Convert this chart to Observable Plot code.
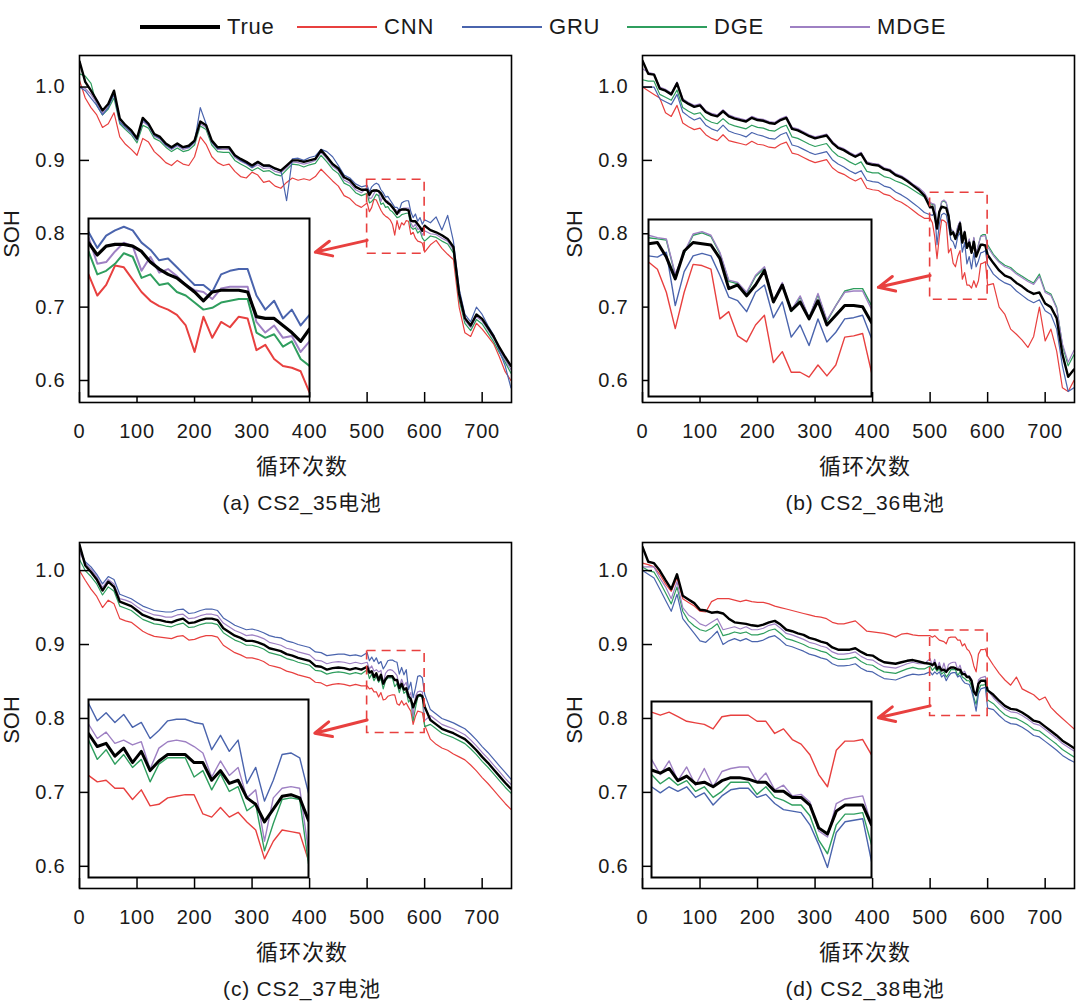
<!DOCTYPE html>
<html><head><meta charset="utf-8">
<script src="https://cdn.jsdelivr.net/npm/d3@7"></script>
<script src="https://cdn.jsdelivr.net/npm/@observablehq/plot@0.6"></script>
<style>
html,body{margin:0;padding:0;background:#fff;}
#root{position:relative;width:1080px;height:1008px;overflow:hidden;font-family:"Liberation Sans","Noto Sans CJK SC",sans-serif;color:#1a1a1a;}
.lbl{position:absolute;transform:translate(-50%,-50%);white-space:nowrap;}
</style></head><body><div id="root"></div>
<script>
// ---------- categories / ticks ----------
const seriesNames = ["True","CNN","GRU","DGE","MDGE"];
const seriesColors = ["#000000","#e8403f","#4a64ad","#2f9e5e","#9e80c3"];
const drawOrder = ["CNN","DGE","MDGE","GRU","True"];
const cyclesEarly = d3.range(0, 500, 10);   // 0..490
const cyclesZoom  = d3.range(500, 601, 4);  // 500..600 (detail shown in insets)
const cyclesLate  = d3.range(610, 751, 10); // 610..750
const xTicks = [0,100,200,300,400,500,600,700];
const yTicks = [0.6,0.7,0.8,0.9,1.0];
const captions = ["(a) CS2_35电池","(b) CS2_36电池","(c) CS2_37电池","(d) CS2_38电池"];
const xAxisTitle = "循环次数";
const yAxisTitle = "SOH";
// zoom window (cycles 500-600) SOH ranges per panel, and arrow ends (cycle, SOH)
const zoomCycles = [500, 600];
const zoomSOH = [[0.7727,0.8737],[0.710,0.856],[0.7804,0.8913],[0.8034,0.919]];
const arrowFrom = [[500,0.791],[500,0.743],[500,0.798],[500,0.817]];
const arrowTo   = [[410,0.775],[410,0.727],[409,0.780],[410,0.801]];

// ---------- Panel (a) CS2_35 ----------
const A_True_early = [1.035,1.007,0.995,0.982,0.968,0.977,0.995,0.957,0.948,0.941,0.930,0.958,0.950,0.936,0.932,0.923,0.918,0.923,0.918,0.920,0.927,0.953,0.948,0.927,0.918,0.918,0.918,0.907,0.902,0.898,0.893,0.898,0.893,0.893,0.889,0.886,0.893,0.900,0.900,0.898,0.900,0.902,0.914,0.905,0.895,0.889,0.877,0.873,0.864,0.860];
const A_True_zoom = [0.860,0.853,0.858,0.859,0.859,0.858,0.855,0.849,0.845,0.842,0.840,0.836,0.832,0.827,0.832,0.833,0.833,0.833,0.832,0.818,0.817,0.817,0.813,0.809,0.804,0.811];
const A_True_late = [0.805,0.802,0.798,0.793,0.782,0.718,0.685,0.675,0.690,0.684,0.672,0.660,0.645,0.632,0.620];
const A_GRU_early = [1.000,0.995,0.985,0.975,0.962,0.972,0.990,0.952,0.945,0.938,0.928,0.955,0.948,0.934,0.930,0.921,0.916,0.921,0.917,0.918,0.925,0.972,0.950,0.925,0.916,0.918,0.917,0.906,0.900,0.896,0.890,0.897,0.892,0.892,0.888,0.887,0.845,0.902,0.903,0.900,0.904,0.906,0.915,0.912,0.905,0.893,0.880,0.876,0.868,0.864];
const A_GRU_zoom = [0.866,0.857,0.864,0.867,0.869,0.867,0.860,0.856,0.850,0.851,0.846,0.841,0.836,0.836,0.832,0.842,0.844,0.845,0.845,0.830,0.822,0.827,0.817,0.822,0.813,0.819];
const A_GRU_late = [0.815,0.823,0.805,0.825,0.790,0.725,0.690,0.680,0.700,0.690,0.675,0.662,0.640,0.620,0.590];
const A_DGE_early = [1.018,1.015,1.005,0.975,0.962,0.970,0.985,0.950,0.942,0.935,0.924,0.948,0.944,0.930,0.926,0.918,0.912,0.917,0.912,0.914,0.921,0.947,0.942,0.921,0.912,0.911,0.911,0.900,0.895,0.891,0.886,0.890,0.885,0.886,0.881,0.879,0.887,0.895,0.894,0.891,0.894,0.896,0.907,0.898,0.888,0.882,0.869,0.865,0.856,0.852];
const A_DGE_zoom = [0.855,0.842,0.844,0.848,0.854,0.852,0.840,0.842,0.836,0.837,0.832,0.830,0.826,0.822,0.823,0.826,0.827,0.828,0.828,0.809,0.806,0.808,0.801,0.804,0.794,0.790];
const A_DGE_late = [0.797,0.795,0.790,0.786,0.774,0.710,0.678,0.668,0.683,0.677,0.665,0.653,0.638,0.625,0.610];
const A_MDGE_early = [1.000,0.998,0.990,0.978,0.964,0.973,0.990,0.953,0.944,0.937,0.927,0.953,0.947,0.933,0.929,0.920,0.915,0.920,0.915,0.917,0.924,0.950,0.945,0.924,0.915,0.915,0.915,0.904,0.899,0.895,0.890,0.894,0.889,0.890,0.885,0.883,0.890,0.898,0.897,0.895,0.897,0.900,0.911,0.902,0.892,0.886,0.873,0.869,0.860,0.856];
const A_MDGE_zoom = [0.863,0.848,0.849,0.855,0.860,0.858,0.844,0.852,0.843,0.845,0.841,0.836,0.833,0.832,0.828,0.834,0.835,0.835,0.835,0.815,0.809,0.813,0.806,0.807,0.798,0.804];
const A_MDGE_late = [0.800,0.799,0.794,0.790,0.778,0.714,0.682,0.672,0.687,0.681,0.669,0.657,0.642,0.628,0.615];
const A_CNN_early = [1.009,0.985,0.972,0.962,0.945,0.950,0.965,0.932,0.922,0.915,0.907,0.930,0.925,0.912,0.905,0.897,0.893,0.900,0.895,0.893,0.905,0.932,0.922,0.905,0.897,0.893,0.895,0.885,0.878,0.876,0.884,0.880,0.870,0.872,0.865,0.862,0.870,0.876,0.873,0.875,0.873,0.878,0.888,0.880,0.872,0.865,0.852,0.848,0.840,0.836];
const A_CNN_zoom = [0.842,0.830,0.836,0.847,0.846,0.839,0.832,0.827,0.824,0.822,0.819,0.813,0.798,0.818,0.806,0.815,0.812,0.818,0.817,0.799,0.802,0.794,0.790,0.789,0.787,0.775];
const A_CNN_late = [0.785,0.791,0.780,0.772,0.765,0.700,0.665,0.660,0.678,0.670,0.660,0.650,0.632,0.612,0.600];

// ---------- Panel (b) CS2_36 ----------
const B_True_early = [1.036,1.018,1.017,0.998,0.995,0.990,1.005,0.982,0.977,0.973,0.975,0.966,0.962,0.960,0.967,0.960,0.957,0.955,0.953,0.958,0.955,0.954,0.951,0.950,0.955,0.958,0.943,0.941,0.937,0.933,0.930,0.932,0.934,0.924,0.917,0.914,0.909,0.905,0.909,0.896,0.894,0.893,0.888,0.886,0.880,0.877,0.872,0.866,0.860,0.852];
const B_True_zoom = [0.836,0.837,0.825,0.807,0.830,0.837,0.836,0.835,0.824,0.799,0.802,0.793,0.802,0.814,0.788,0.802,0.781,0.788,0.774,0.789,0.769,0.777,0.785,0.785,0.784,0.771];
const B_True_late = [0.760,0.750,0.743,0.740,0.733,0.728,0.722,0.718,0.720,0.705,0.700,0.685,0.636,0.605,0.615];
const B_GRU_early = [1.000,1.000,1.000,0.984,0.980,0.976,0.990,0.966,0.960,0.955,0.958,0.948,0.943,0.940,0.948,0.940,0.937,0.935,0.932,0.938,0.935,0.933,0.930,0.929,0.935,0.938,0.921,0.919,0.915,0.911,0.908,0.910,0.912,0.901,0.895,0.891,0.886,0.882,0.886,0.873,0.871,0.870,0.865,0.863,0.857,0.853,0.848,0.842,0.836,0.829];
const B_GRU_zoom = [0.826,0.825,0.829,0.785,0.813,0.826,0.828,0.826,0.810,0.792,0.789,0.780,0.796,0.802,0.775,0.788,0.759,0.769,0.752,0.774,0.755,0.763,0.774,0.775,0.777,0.758];
const B_GRU_late = [0.745,0.738,0.733,0.730,0.722,0.716,0.710,0.706,0.710,0.695,0.690,0.670,0.620,0.585,0.590];
const B_DGE_early = [1.010,1.008,1.008,0.990,0.986,0.982,0.996,0.972,0.967,0.963,0.965,0.956,0.952,0.950,0.957,0.950,0.947,0.945,0.943,0.948,0.945,0.944,0.941,0.940,0.945,0.948,0.932,0.930,0.926,0.922,0.919,0.921,0.923,0.913,0.906,0.903,0.898,0.894,0.898,0.885,0.883,0.883,0.878,0.876,0.872,0.869,0.865,0.860,0.855,0.850];
const B_DGE_zoom = [0.841,0.840,0.839,0.810,0.828,0.843,0.845,0.842,0.828,0.805,0.803,0.795,0.809,0.816,0.788,0.803,0.780,0.792,0.775,0.794,0.772,0.785,0.797,0.799,0.799,0.785];
const B_DGE_late = [0.772,0.763,0.757,0.754,0.747,0.742,0.737,0.733,0.745,0.722,0.718,0.700,0.648,0.620,0.635];
const B_MDGE_early = [1.025,1.020,1.018,1.000,0.997,0.992,1.007,0.984,0.979,0.975,0.977,0.968,0.964,0.962,0.969,0.962,0.959,0.957,0.955,0.960,0.957,0.956,0.953,0.952,0.957,0.960,0.945,0.943,0.939,0.935,0.932,0.934,0.936,0.926,0.919,0.916,0.911,0.907,0.911,0.898,0.896,0.895,0.890,0.888,0.882,0.879,0.874,0.868,0.863,0.856];
const B_MDGE_zoom = [0.843,0.841,0.840,0.811,0.829,0.844,0.846,0.843,0.829,0.806,0.804,0.796,0.810,0.817,0.789,0.804,0.781,0.793,0.775,0.795,0.773,0.785,0.796,0.797,0.797,0.782];
const B_MDGE_late = [0.770,0.761,0.755,0.752,0.745,0.740,0.735,0.731,0.742,0.720,0.716,0.698,0.650,0.625,0.641];
const B_CNN_early = [1.000,0.995,0.990,0.985,0.965,0.960,0.975,0.951,0.946,0.942,0.944,0.935,0.930,0.927,0.935,0.927,0.925,0.923,0.921,0.926,0.922,0.921,0.918,0.917,0.922,0.925,0.910,0.908,0.904,0.900,0.897,0.899,0.901,0.890,0.884,0.881,0.876,0.872,0.876,0.862,0.860,0.859,0.854,0.852,0.846,0.843,0.838,0.832,0.826,0.821];
const B_CNN_zoom = [0.821,0.815,0.796,0.766,0.796,0.819,0.818,0.815,0.774,0.780,0.760,0.755,0.769,0.777,0.738,0.747,0.730,0.730,0.726,0.736,0.727,0.736,0.759,0.760,0.762,0.730];
const B_CNN_late = [0.732,0.700,0.690,0.670,0.663,0.655,0.645,0.660,0.700,0.654,0.670,0.640,0.590,0.585,0.600];

// ---------- Panel (c) CS2_37 ----------
const C_True_early = [1.035,1.007,0.998,0.988,0.973,0.985,0.978,0.958,0.955,0.952,0.946,0.940,0.937,0.934,0.933,0.931,0.930,0.933,0.935,0.929,0.930,0.933,0.935,0.935,0.933,0.922,0.917,0.912,0.909,0.905,0.905,0.903,0.900,0.895,0.893,0.891,0.887,0.885,0.882,0.880,0.878,0.871,0.870,0.866,0.868,0.869,0.868,0.866,0.868,0.866];
const C_True_zoom = [0.870,0.862,0.864,0.856,0.861,0.852,0.859,0.847,0.853,0.857,0.857,0.857,0.852,0.852,0.841,0.847,0.839,0.841,0.830,0.826,0.815,0.823,0.831,0.832,0.830,0.816];
const C_True_late = [0.798,0.792,0.786,0.783,0.780,0.776,0.772,0.765,0.757,0.748,0.740,0.731,0.722,0.713,0.705];
const C_GRU_early = [1.030,1.012,1.005,0.995,0.982,0.992,0.988,0.968,0.965,0.962,0.957,0.952,0.949,0.946,0.945,0.944,0.944,0.947,0.948,0.942,0.943,0.946,0.948,0.948,0.946,0.936,0.931,0.926,0.923,0.920,0.921,0.919,0.916,0.912,0.910,0.909,0.905,0.903,0.900,0.898,0.896,0.890,0.889,0.885,0.886,0.887,0.887,0.885,0.886,0.884];
const C_GRU_zoom = [0.889,0.878,0.883,0.877,0.882,0.874,0.877,0.867,0.872,0.878,0.879,0.879,0.877,0.876,0.860,0.869,0.859,0.866,0.839,0.849,0.828,0.841,0.857,0.858,0.855,0.833];
const C_GRU_late = [0.812,0.806,0.800,0.797,0.794,0.790,0.786,0.779,0.771,0.762,0.754,0.745,0.736,0.727,0.718];
const C_DGE_early = [1.015,1.000,0.992,0.982,0.967,0.978,0.972,0.952,0.949,0.946,0.940,0.934,0.931,0.928,0.927,0.925,0.924,0.927,0.929,0.923,0.924,0.927,0.929,0.929,0.927,0.916,0.911,0.906,0.903,0.899,0.899,0.897,0.894,0.889,0.887,0.885,0.881,0.879,0.876,0.874,0.872,0.865,0.864,0.860,0.862,0.863,0.862,0.860,0.862,0.860];
const C_DGE_zoom = [0.866,0.854,0.860,0.851,0.857,0.849,0.854,0.840,0.851,0.855,0.855,0.855,0.843,0.847,0.835,0.845,0.834,0.837,0.822,0.826,0.797,0.814,0.829,0.830,0.829,0.789];
const C_DGE_late = [0.792,0.786,0.780,0.777,0.774,0.770,0.766,0.759,0.751,0.742,0.734,0.725,0.716,0.707,0.699];
const C_MDGE_early = [1.025,1.010,1.002,0.992,0.977,0.988,0.982,0.962,0.960,0.957,0.951,0.946,0.943,0.940,0.939,0.937,0.937,0.940,0.941,0.935,0.936,0.939,0.941,0.941,0.939,0.929,0.924,0.919,0.916,0.912,0.913,0.911,0.908,0.903,0.901,0.899,0.895,0.893,0.890,0.888,0.886,0.879,0.878,0.874,0.876,0.877,0.876,0.874,0.876,0.874];
const C_MDGE_zoom = [0.876,0.867,0.871,0.864,0.866,0.863,0.865,0.848,0.861,0.865,0.866,0.865,0.862,0.858,0.843,0.853,0.844,0.849,0.830,0.835,0.803,0.830,0.836,0.837,0.836,0.797];
const C_MDGE_late = [0.804,0.798,0.792,0.789,0.786,0.782,0.778,0.771,0.763,0.754,0.746,0.737,0.728,0.719,0.711];
const C_CNN_early = [1.000,0.987,0.975,0.965,0.950,0.960,0.955,0.935,0.932,0.930,0.924,0.918,0.914,0.911,0.910,0.909,0.908,0.911,0.912,0.906,0.907,0.910,0.912,0.912,0.910,0.899,0.894,0.889,0.886,0.882,0.882,0.880,0.877,0.872,0.870,0.868,0.864,0.862,0.859,0.857,0.855,0.849,0.848,0.844,0.846,0.847,0.846,0.844,0.846,0.844];
const C_CNN_zoom = [0.844,0.840,0.841,0.836,0.836,0.829,0.835,0.825,0.826,0.830,0.831,0.832,0.832,0.820,0.818,0.824,0.818,0.821,0.815,0.810,0.792,0.803,0.810,0.809,0.808,0.791];
const C_CNN_late = [0.772,0.765,0.760,0.757,0.752,0.748,0.744,0.737,0.729,0.720,0.712,0.703,0.694,0.685,0.677];

// ---------- Panel (d) CS2_38 ----------
const D_True_early = [1.032,1.012,1.010,1.000,0.987,0.975,0.995,0.966,0.961,0.956,0.947,0.946,0.943,0.944,0.942,0.935,0.930,0.929,0.928,0.926,0.925,0.927,0.930,0.932,0.927,0.920,0.918,0.915,0.913,0.909,0.907,0.904,0.902,0.896,0.893,0.893,0.893,0.895,0.890,0.886,0.885,0.880,0.876,0.875,0.874,0.876,0.878,0.879,0.877,0.875];
const D_True_zoom = [0.874,0.872,0.875,0.867,0.870,0.865,0.866,0.863,0.867,0.869,0.869,0.868,0.866,0.866,0.860,0.860,0.856,0.856,0.851,0.836,0.832,0.847,0.851,0.851,0.851,0.838];
const D_True_late = [0.832,0.824,0.817,0.813,0.812,0.808,0.803,0.797,0.795,0.789,0.783,0.777,0.770,0.765,0.760];
const D_GRU_early = [1.000,0.995,0.990,0.975,0.960,0.945,0.968,0.935,0.925,0.915,0.905,0.903,0.910,0.918,0.900,0.905,0.908,0.905,0.908,0.904,0.904,0.906,0.910,0.912,0.906,0.899,0.897,0.894,0.891,0.887,0.885,0.882,0.880,0.874,0.871,0.871,0.872,0.874,0.868,0.864,0.863,0.858,0.854,0.853,0.852,0.855,0.858,0.860,0.859,0.860];
const D_GRU_zoom = [0.863,0.859,0.863,0.860,0.863,0.856,0.859,0.851,0.857,0.861,0.862,0.862,0.856,0.858,0.852,0.848,0.847,0.846,0.838,0.825,0.810,0.833,0.840,0.841,0.842,0.814];
const D_GRU_late = [0.812,0.804,0.797,0.793,0.792,0.788,0.783,0.777,0.775,0.769,0.763,0.757,0.750,0.745,0.741];
const D_DGE_early = [1.005,1.000,0.998,0.985,0.970,0.955,0.978,0.945,0.932,0.925,0.920,0.918,0.922,0.928,0.912,0.914,0.917,0.915,0.917,0.913,0.913,0.915,0.919,0.921,0.915,0.908,0.906,0.903,0.900,0.896,0.894,0.891,0.889,0.883,0.880,0.880,0.881,0.883,0.877,0.873,0.872,0.867,0.863,0.862,0.861,0.864,0.867,0.869,0.867,0.867];
const D_DGE_zoom = [0.871,0.865,0.869,0.864,0.867,0.860,0.863,0.856,0.860,0.866,0.866,0.866,0.858,0.863,0.856,0.854,0.851,0.851,0.844,0.828,0.819,0.838,0.845,0.845,0.846,0.825];
const D_DGE_late = [0.820,0.812,0.805,0.801,0.800,0.796,0.791,0.785,0.783,0.777,0.771,0.765,0.758,0.753,0.748];
const D_MDGE_early = [1.005,1.005,1.005,0.990,0.978,0.962,0.985,0.950,0.940,0.935,0.928,0.925,0.930,0.935,0.920,0.922,0.924,0.921,0.924,0.920,0.920,0.922,0.926,0.928,0.922,0.915,0.913,0.910,0.907,0.903,0.901,0.898,0.896,0.890,0.887,0.887,0.888,0.890,0.884,0.880,0.879,0.874,0.870,0.869,0.868,0.871,0.874,0.876,0.874,0.874];
const D_MDGE_zoom = [0.881,0.871,0.880,0.867,0.876,0.864,0.875,0.863,0.873,0.875,0.876,0.876,0.866,0.872,0.861,0.864,0.857,0.858,0.853,0.834,0.830,0.852,0.855,0.856,0.857,0.838];
const D_MDGE_late = [0.828,0.820,0.813,0.809,0.808,0.804,0.799,0.793,0.791,0.785,0.779,0.773,0.766,0.761,0.756];
const D_CNN_early = [1.010,1.008,1.005,0.995,0.982,0.972,0.990,0.962,0.957,0.952,0.945,0.944,0.958,0.962,0.962,0.962,0.960,0.958,0.960,0.958,0.957,0.957,0.955,0.952,0.950,0.948,0.946,0.944,0.942,0.940,0.938,0.937,0.935,0.930,0.928,0.928,0.930,0.932,0.925,0.918,0.917,0.916,0.915,0.913,0.910,0.914,0.915,0.913,0.912,0.912];
const D_CNN_zoom = [0.912,0.910,0.912,0.909,0.906,0.905,0.904,0.901,0.909,0.910,0.910,0.910,0.906,0.906,0.898,0.901,0.894,0.891,0.884,0.871,0.863,0.887,0.893,0.893,0.894,0.884];
const D_CNN_late = [0.872,0.861,0.852,0.845,0.856,0.840,0.836,0.832,0.825,0.829,0.815,0.807,0.800,0.793,0.786];

// ---------- build tables from the arrays ----------
const seriesData = {
  A: {True:[A_True_early,A_True_zoom,A_True_late], CNN:[A_CNN_early,A_CNN_zoom,A_CNN_late], GRU:[A_GRU_early,A_GRU_zoom,A_GRU_late], DGE:[A_DGE_early,A_DGE_zoom,A_DGE_late], MDGE:[A_MDGE_early,A_MDGE_zoom,A_MDGE_late]},
  B: {True:[B_True_early,B_True_zoom,B_True_late], CNN:[B_CNN_early,B_CNN_zoom,B_CNN_late], GRU:[B_GRU_early,B_GRU_zoom,B_GRU_late], DGE:[B_DGE_early,B_DGE_zoom,B_DGE_late], MDGE:[B_MDGE_early,B_MDGE_zoom,B_MDGE_late]},
  C: {True:[C_True_early,C_True_zoom,C_True_late], CNN:[C_CNN_early,C_CNN_zoom,C_CNN_late], GRU:[C_GRU_early,C_GRU_zoom,C_GRU_late], DGE:[C_DGE_early,C_DGE_zoom,C_DGE_late], MDGE:[C_MDGE_early,C_MDGE_zoom,C_MDGE_late]},
  D: {True:[D_True_early,D_True_zoom,D_True_late], CNN:[D_CNN_early,D_CNN_zoom,D_CNN_late], GRU:[D_GRU_early,D_GRU_zoom,D_GRU_late], DGE:[D_DGE_early,D_DGE_zoom,D_DGE_late], MDGE:[D_MDGE_early,D_MDGE_zoom,D_MDGE_late]}
};
const colorOf = Object.fromEntries(seriesNames.map((s,i)=>[s,seriesColors[i]]));
function rowsFor(key, s, parts) {
  const cyc = [cyclesEarly, cyclesZoom, cyclesLate];
  const out = [];
  parts.forEach(p => {
    const arr = seriesData[key][s][p];
    for (let i = 0; i < Math.min(arr.length, cyc[p].length); i++) out.push({c: cyc[p][i], v: arr[i]});
  });
  return out;
}

// ---------- layout (pixels) ----------
const panelKeys = ["A","B","C","D"];
const frames = [ {x0:79,x1:511,y0:55,y1:402}, {x0:642,x1:1074,y0:55,y1:402}, {x0:79,x1:511,y0:542,y1:888}, {x0:642,x1:1074,y0:542,y1:888} ];
const yDomains = [[0.570,1.043],[0.570,1.043],[0.570,1.038],[0.570,1.038]];
const insets = [ {x0:88,x1:309,y0:218,y1:396}, {x0:648,x1:871,y0:219,y1:396}, {x0:88,x1:308,y0:699,y1:877}, {x0:651,x1:871,y0:701,y1:877} ];
const insetWidths = [[2.0,3.2],[1.4,3.0],[1.4,3.0],[1.4,3.0]];
const RED = "#e8403f";
const FONT = "'Liberation Sans','Noto Sans CJK SC',sans-serif";
const root = document.getElementById("root");
function place(el, left, top) {
  el.style.position = "absolute"; el.style.left = left + "px"; el.style.top = top + "px";
  el.style.maxWidth = "none";
  root.appendChild(el);
}
function label(text, x, y, size, extra) {
  const d = document.createElement("div");
  d.className = "lbl"; d.textContent = text;
  d.style.left = x + "px"; d.style.top = y + "px"; d.style.fontSize = size + "px";
  if (extra) Object.assign(d.style, extra);
  root.appendChild(d);
  return d;
}

panelKeys.forEach((key, i) => {
  const f = frames[i];
  const W = f.x1 - f.x0, H = f.y1 - f.y0;
  const mL = 70, mR = 6, mT = 6, mB = 46;
  const marks = [];
  drawOrder.forEach(s => {
    marks.push(Plot.line(rowsFor(key, s, [0,1,2]), {x:"c", y:"v", stroke: colorOf[s], strokeWidth: s === "True" ? 2.4 : 1.2, clip: true}));
  });
  marks.push(Plot.rect([{x1: zoomCycles[0], x2: zoomCycles[1], y1: zoomSOH[i][0], y2: zoomSOH[i][1]}],
    {x1:"x1", x2:"x2", y1:"y1", y2:"y2", fill:"none", stroke: RED, strokeWidth: 1.6, strokeDasharray: "9,6"}));
  marks.push(Plot.arrow([{x1: arrowFrom[i][0], y1: arrowFrom[i][1], x2: arrowTo[i][0], y2: arrowTo[i][1]}],
    {x1:"x1", y1:"y1", x2:"x2", y2:"y2", stroke: RED, strokeWidth: 3, headLength: 12, headAngle: 50}));
  marks.push(Plot.tickX(xTicks, {x: d => d, insetTop: H - 10, stroke: "#000", strokeWidth: 1.5}));
  marks.push(Plot.tickY(yTicks, {y: d => d, insetRight: W - 10, stroke: "#000", strokeWidth: 1.5}));
  marks.push(Plot.axisX({ticks: xTicks, tickSize: 0, tickPadding: 21, label: null, fontSize: 20}));
  marks.push(Plot.axisY({ticks: yTicks, tickSize: 0, tickPadding: 14, label: null, fontSize: 20, tickFormat: d3.format(".1f")}));
  marks.push(Plot.frame({stroke: "#000", strokeWidth: 1.6}));
  const svg = Plot.plot({
    width: W + mL + mR, height: H + mT + mB,
    marginLeft: mL, marginRight: mR, marginTop: mT, marginBottom: mB,
    x: {domain: [0, 751]}, y: {domain: yDomains[i]},
    style: {fontFamily: FONT, fontSize: "20px", color: "#1a1a1a", background: "transparent", letterSpacing: "0.8px"},
    marks
  });
  place(svg, f.x0 - mL, f.y0 - mT);

  // inset (zoom of cycles 500-600)
  const ins = insets[i];
  const iw = ins.x1 - ins.x0, ih = ins.y1 - ins.y0, m = 2;
  const imarks = [];
  drawOrder.forEach(s => {
    imarks.push(Plot.line(rowsFor(key, s, [1]), {x:"c", y:"v", stroke: colorOf[s], strokeWidth: s === "True" ? insetWidths[i][1] : insetWidths[i][0], clip: true}));
  });
  imarks.push(Plot.frame({stroke: "#000", strokeWidth: 2}));
  const isvg = Plot.plot({
    width: iw + 2*m, height: ih + 2*m,
    marginLeft: m, marginRight: m, marginTop: m, marginBottom: m,
    x: {domain: zoomCycles, axis: null}, y: {domain: zoomSOH[i], axis: null},
    style: {background: "transparent"},
    marks: [Plot.frame({fill: "#fff", stroke: "none"}), ...imarks]
  });
  place(isvg, ins.x0 - m, ins.y0 - m);

  // axis titles and caption
  const cx = (f.x0 + f.x1) / 2 + 7;
  label(xAxisTitle, cx, f.y1 + 62, 22, {fontFamily: "'Noto Sans CJK SC',sans-serif", letterSpacing: "1px"});
  label(captions[i], cx, f.y1 + 99, 21, {fontFamily: FONT, letterSpacing: "0.8px"});
  label(yAxisTitle, f.x0 - 67, (f.y0 + f.y1) / 2 + 5, 22, {transform: "translate(-50%,-50%) rotate(-90deg)", fontFamily: FONT, lineHeight: "22px"});
});

// ---------- legend ----------
const legendX = [140, 297, 462, 627, 790];
seriesNames.forEach((s, i) => {
  const ln = document.createElement("div");
  const th = s === "True" ? 4 : 2;
  Object.assign(ln.style, {position: "absolute", left: legendX[i] + "px", top: (27 - th / 2) + "px", width: "80px", height: th + "px", background: colorOf[s]});
  root.appendChild(ln);
  const t = document.createElement("div");
  t.textContent = s;
  Object.assign(t.style, {position: "absolute", left: (legendX[i] + 87) + "px", top: "27px", transform: "translateY(-50%)", fontSize: "22px", fontFamily: FONT, letterSpacing: "0.8px", whiteSpace: "nowrap"});
  root.appendChild(t);
});
</script></body></html>
